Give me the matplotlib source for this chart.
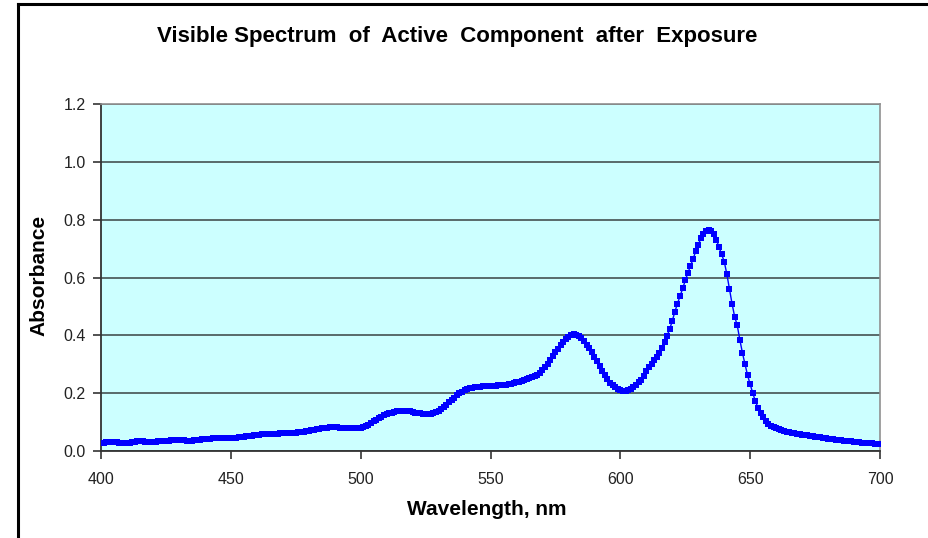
import matplotlib.pyplot as plt
from matplotlib.lines import Line2D
from matplotlib.ticker import FormatStrFormatter

# =====================================================
# DATA (1 nm steps)
# =====================================================

wl_start = 400
wl_end = 700

absorbance = [
    # 400-449
    0.028, 0.029, 0.030, 0.030, 0.030, 0.030, 0.030, 0.029, 0.028, 0.028,
    0.028, 0.029, 0.030, 0.032, 0.033, 0.034, 0.033, 0.032, 0.032, 0.032,
    0.032, 0.032, 0.033, 0.033, 0.034, 0.035, 0.036, 0.037, 0.038, 0.038,
    0.038, 0.038, 0.037, 0.036, 0.036, 0.036, 0.037, 0.038, 0.039, 0.040,
    0.041, 0.042, 0.043, 0.044, 0.045, 0.046, 0.046, 0.046, 0.045, 0.045,
    # 450-499
    0.045, 0.046, 0.046, 0.047, 0.048, 0.049, 0.051, 0.052, 0.053, 0.055,
    0.056, 0.057, 0.058, 0.058, 0.059, 0.059, 0.060, 0.060, 0.060, 0.061,
    0.061, 0.061, 0.062, 0.062, 0.062, 0.063, 0.064, 0.065, 0.066, 0.068,
    0.070, 0.072, 0.074, 0.076, 0.077, 0.079, 0.080, 0.081, 0.082, 0.082,
    0.082, 0.082, 0.081, 0.080, 0.079, 0.079, 0.078, 0.078, 0.078, 0.078,
    # 500-549
    0.079, 0.082, 0.086, 0.091, 0.097, 0.103, 0.108, 0.113, 0.118, 0.123,
    0.127, 0.130, 0.133, 0.135, 0.137, 0.138, 0.139, 0.139, 0.138, 0.137,
    0.135, 0.133, 0.131, 0.130, 0.129, 0.128, 0.128, 0.129, 0.131, 0.135,
    0.140, 0.146, 0.153, 0.160, 0.168, 0.176, 0.184, 0.192, 0.199, 0.205,
    0.210, 0.214, 0.217, 0.219, 0.221, 0.222, 0.223, 0.224, 0.224, 0.225,
    # 550-599
    0.225, 0.226, 0.226, 0.227, 0.227, 0.228, 0.229, 0.231, 0.233, 0.235,
    0.237, 0.240, 0.242, 0.245, 0.248, 0.251, 0.255, 0.259, 0.264, 0.271,
    0.279, 0.290, 0.302, 0.315, 0.328, 0.341, 0.354, 0.366, 0.378, 0.388,
    0.395, 0.400, 0.403, 0.402, 0.398, 0.390, 0.380, 0.368, 0.357, 0.342,
    0.326, 0.310, 0.294, 0.278, 0.262, 0.249, 0.236, 0.227, 0.220, 0.214,
    # 600-649
    0.211, 0.209, 0.209, 0.212, 0.216, 0.222, 0.229, 0.237, 0.246, 0.258,
    0.275, 0.290, 0.302, 0.313, 0.325, 0.338, 0.355, 0.376, 0.398, 0.422,
    0.450, 0.482, 0.510, 0.536, 0.562, 0.590, 0.616, 0.640, 0.664, 0.690,
    0.714, 0.735, 0.751, 0.761, 0.764, 0.760, 0.750, 0.730, 0.705, 0.680,
    0.655, 0.612, 0.560, 0.510, 0.465, 0.435, 0.385, 0.340, 0.300, 0.262,
    # 650-700
    0.230, 0.200, 0.172, 0.150, 0.131, 0.117, 0.105, 0.095, 0.088, 0.082,
    0.078, 0.075, 0.072, 0.069, 0.067, 0.065, 0.063, 0.062, 0.060, 0.058,
    0.057, 0.056, 0.054, 0.053, 0.051, 0.050, 0.048, 0.047, 0.046, 0.044,
    0.043, 0.042, 0.040, 0.039, 0.038, 0.037, 0.036, 0.035, 0.034, 0.033,
    0.032, 0.031, 0.030, 0.029, 0.029, 0.028, 0.027, 0.026, 0.025, 0.024,
    0.023,
]

wavelength = list(range(wl_start, wl_end + 1))

x_ticks = [400, 450, 500, 550, 600, 650, 700]
y_ticks = [0.0, 0.2, 0.4, 0.6, 0.8, 1.0, 1.2]

title = "Visible Spectrum  of  Active  Component  after  Exposure"
x_label = "Wavelength, nm"
y_label = "Absorbance"

# =====================================================
# PLOT
# =====================================================

plt.rcParams["font.family"] = ["Liberation Sans", "DejaVu Sans"]

fig = plt.figure(figsize=(9.29, 5.38), dpi=100)
fig.patch.set_facecolor("white")

ax = fig.add_axes([0.1087, 0.1617, 0.8386, 0.645])
ax.set_facecolor("#CCFFFF")

ax.plot(
    wavelength,
    absorbance,
    color="#0000FF",
    linewidth=1.0,
    marker="s",
    markersize=4.2,
    markeredgewidth=0,
    zorder=3
)

ax.set_xlim(400, 700)
ax.set_ylim(0, 1.2)
ax.set_xticks(x_ticks)
ax.set_yticks(y_ticks)
ax.yaxis.set_major_formatter(FormatStrFormatter("%.1f"))

ax.grid(True, axis="y", color="#4F5F5F", linewidth=1.3)
ax.set_axisbelow(True)

ax.tick_params(
    axis="both",
    direction="out",
    length=6,
    width=1.2,
    color="#333333",
    labelsize=11.5,
    labelcolor="#222222"
)
ax.tick_params(axis="x", pad=9)
ax.tick_params(axis="y", pad=5)

for side in ["top", "right"]:
    ax.spines[side].set_color("#909090")
    ax.spines[side].set_linewidth(1.2)
for side in ["left", "bottom"]:
    ax.spines[side].set_color("#333333")
    ax.spines[side].set_linewidth(1.3)

ax.set_xlabel(x_label, fontsize=15, fontweight="bold")
ax.xaxis.set_label_coords(0.4955, -0.142)
ax.set_ylabel(y_label, fontsize=15, fontweight="bold")
ax.yaxis.set_label_coords(-0.0668, 0.505)

fig.text(
    0.492, 0.933,
    title,
    ha="center",
    va="center",
    fontsize=16,
    fontweight="bold"
)

# chart border (top and left edges visible)
fig.add_artist(Line2D([0.0194, 0.0194], [0.0, 0.9926],
                      transform=fig.transFigure, color="black", linewidth=2.2))
fig.add_artist(Line2D([0.0194, 1.0], [0.9926, 0.9926],
                      transform=fig.transFigure, color="black", linewidth=2.2))

fig.savefig("out.png", dpi=100)
